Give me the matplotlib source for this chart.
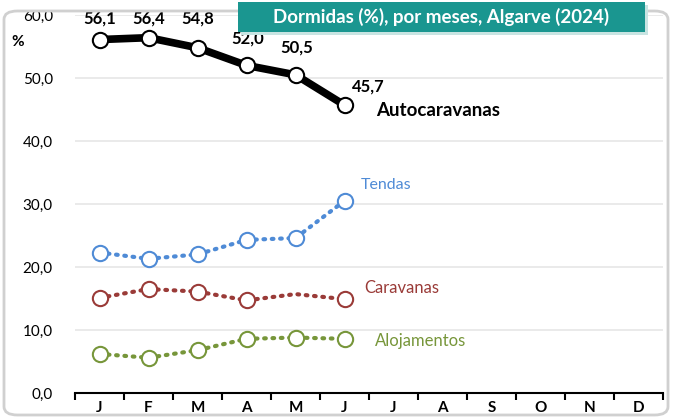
import numpy as np
import matplotlib.pyplot as plt
from matplotlib.patches import FancyBboxPatch, Rectangle

plt.rcParams['font.family'] = ['Lato', 'DejaVu Sans']

months = ["J", "F", "M", "A", "M", "J", "J", "A", "S", "O", "N", "D"]
autocaravanas = [56.1, 56.4, 54.8, 52.0, 50.5, 45.7]
tendas = [22.3, 21.3, 22.0, 24.3, 24.6, 30.5]
caravanas = [15.1, 16.5, 16.1, 14.7, 15.7, 14.9]
alojamentos = [6.2, 5.6, 6.8, 8.6, 8.8, 8.6]

c_tendas = "#4f8bd6"
c_carav = "#9a3b38"
c_aloj = "#77963a"

fig = plt.figure(figsize=(6.73, 4.19), dpi=100)
ax = fig.add_axes([75 / 673, 26 / 419, 588 / 673, 378 / 419])

x = np.arange(len(autocaravanas))

ax.plot(x, autocaravanas, color="black", lw=5.5, marker="o", ms=11,
        mfc="white", mec="black", mew=1.5, zorder=5, solid_capstyle="round")
ax.plot(x, tendas, color=c_tendas, lw=3, ls=(0, (0.4, 1.6)), dash_capstyle="round",
        marker="o", ms=11, mfc="white", mec=c_tendas, mew=1.5, zorder=4)
ax.plot(x, caravanas, color=c_carav, lw=3, ls=(0, (0.4, 1.6)), dash_capstyle="round",
        marker="o", ms=11, mfc="white", mec=c_carav, mew=1.5, zorder=4,
        markevery=[0, 1, 2, 3, 5])
ax.plot(x, alojamentos, color=c_aloj, lw=3, ls=(0, (0.4, 1.6)), dash_capstyle="round",
        marker="o", ms=11, mfc="white", mec=c_aloj, mew=1.5, zorder=4)

# data labels for Autocaravanas
offsets = [(0, 3.3), (0, 3.0), (0, 4.6), (0.02, 4.3), (0.02, 4.3), (0.49, 3.0)]
for i, v in enumerate(autocaravanas):
    dx, dy = offsets[i]
    ax.text(x[i] + dx, v + dy, f"{v:.1f}".replace(".", ","), ha="center",
            va="center", fontsize=12, fontweight="bold", color="black", zorder=6)

ax.text(5.65, 44.8, "Autocaravanas", fontsize=13.5, fontweight="bold", color="black",
        ha="left", va="center")
ax.text(5.33, 33.0, "Tendas", fontsize=11.5, color=c_tendas, ha="left", va="center")
ax.text(5.4, 16.7, "Caravanas", fontsize=12, color=c_carav, ha="left", va="center")
ax.text(5.62, 8.3, "Alojamentos", fontsize=12, color=c_aloj, ha="left", va="center")

ax.set_xlim(-0.5, 11.5)
ax.set_ylim(0, 60)
ax.set_yticks(np.arange(0, 61, 10))
ax.set_yticklabels([f"{t:.1f}".replace(".", ",") for t in np.arange(0, 61, 10)],
                   fontsize=11)
ax.set_xticks(np.arange(12))
ax.set_xticklabels(months, fontsize=11, fontweight="bold")
ax.set_xticks(np.arange(-0.5, 12, 1), minor=True)
ax.tick_params(axis="x", which="major", length=0, pad=6)
ax.tick_params(axis="x", which="minor", length=5, width=1.5, direction="out")
ax.tick_params(axis="y", length=0, pad=16)
ax.grid(axis="y", color="#e6e6e6", lw=1.2)
ax.set_axisbelow(True)
for s in ["top", "right", "left"]:
    ax.spines[s].set_visible(False)
ax.spines["bottom"].set_linewidth(1.5)

fig.text(18 / 673, 1 - 42 / 419, "%", fontsize=11, fontweight="bold",
         ha="center", va="center")

# outer rounded frame
frame = FancyBboxPatch((4 / 673, 4 / 419), 664 / 673, 404 / 419,
                       boxstyle="round,pad=0,rounding_size=0.02",
                       transform=fig.transFigure, fill=False,
                       edgecolor="#d0d0d0", lw=2, zorder=0)
fig.patches.append(frame)

# title box with soft shadow
fig.patches.append(Rectangle((241 / 673, 1 - 35 / 419), 407 / 673, 30 / 419,
                             transform=fig.transFigure, facecolor="#c8e4e2",
                             edgecolor="none", zorder=1))
fig.patches.append(Rectangle((238 / 673, 1 - 32 / 419), 407 / 673, 30 / 419,
                             transform=fig.transFigure, facecolor="#1a9690",
                             edgecolor="none", zorder=2))
fig.text(441 / 673, 1 - 17 / 419, "Dormidas (%), por meses, Algarve (2024)",
         fontsize=13.5, fontweight="bold", color="white", ha="center", va="center",
         zorder=3)

fig.savefig("out.png", dpi=100)
